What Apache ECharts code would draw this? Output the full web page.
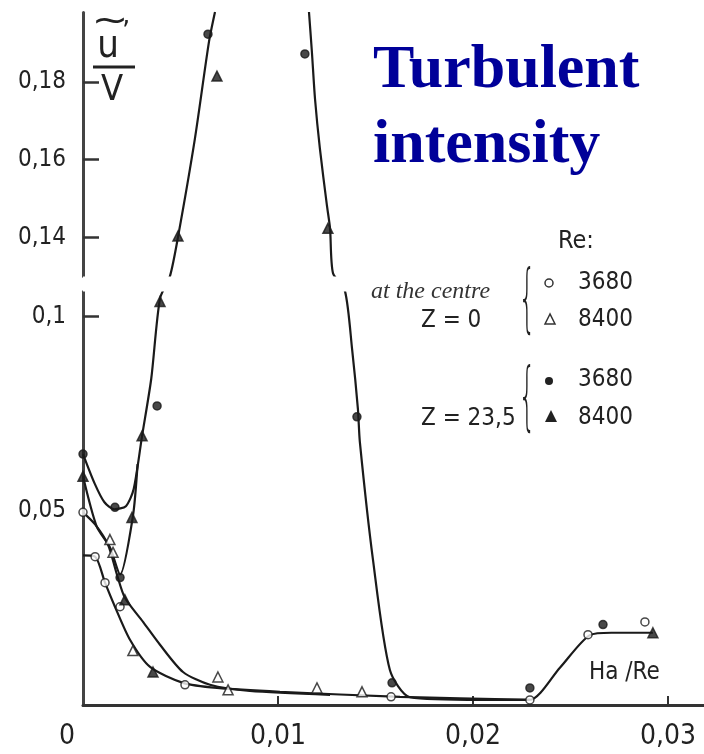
<!DOCTYPE html>
<html><head><meta charset="utf-8">
<script src="https://cdn.jsdelivr.net/npm/echarts@6/dist/echarts.min.js"></script>
<style>html,body{margin:0;padding:0;background:#fff}#c{width:704px;height:754px}</style>
</head><body><div id="c"></div>
<script>
// ---- axis ticks / labels ----
const xLabelValues = [0, 0.01, 0.02, 0.03];
const xTickValues = [0.01, 0.02, 0.03];
const yLabelValues = [0.05, 0.1, 0.14, 0.16, 0.18];
const yTickValues = [0.1, 0.14, 0.16, 0.18];
const yBreakRange = [0.1065, 0.13];

// ---- drawn curves [Ha/Re, u'/V] ----
const curvePeakLeft = [[0,0.0646],[0.0006,0.057],[0.0011,0.0522],[0.0016,0.0504],[0.0022,0.0512],[0.0026,0.0556],[0.00303,0.0693],[0.0035,0.084],[0.00395,0.1047],[0.00446,0.13],[0.00487,0.14],[0.00574,0.1654],[0.00646,0.1903],[0.00677,0.198]];
const curvePeakRight = [[0.01159,0.198],[0.01174,0.1877],[0.0119,0.1756],[0.01215,0.1628],[0.01251,0.1482],[0.01267,0.1423],[0.01282,0.1308],[0.01344,0.1065],[0.0138,0.0917],[0.0141,0.0762],[0.0142,0.0677],[0.01487,0.0375],[0.01574,0.009],[0.01677,0.002],[0.0204,0.0013],[0.0229,0.0013],[0.02446,0.0096],[0.026,0.018],[0.0271,0.0186],[0.02923,0.0186]];
const curveDip = [[0,0.0589],[0.0007,0.046],[0.00138,0.0406],[0.0019,0.0336],[0.00256,0.0486],[0.0028,0.062]];
const curveOuter = [[0,0.0496],[0.00062,0.0465],[0.00128,0.0413],[0.00174,0.0336],[0.00215,0.0276],[0.00308,0.0214],[0.00395,0.0155],[0.00513,0.0085],[0.00651,0.0052],[0.00856,0.0036],[0.01267,0.0026]];
const curveInner = [[0,0.0385],[0.00062,0.0382],[0.00113,0.0315],[0.00164,0.0253],[0.00241,0.0168],[0.00344,0.0098],[0.00513,0.0057],[0.00687,0.0044],[0.0101,0.0034],[0.01626,0.0021],[0.02292,0.0013]];

// ---- measured points ----
const centreRe3680 = [[0,0.0496],[0.00062,0.0382],[0.00113,0.0315],[0.0019,0.0253],[0.00523,0.0052],[0.0158,0.0021],[0.02292,0.0013],[0.0259,0.0181],[0.02882,0.0214]];
const centreRe8400 = [[0.00138,0.0426],[0.00154,0.0393],[0.00256,0.014],[0.00692,0.0072],[0.00744,0.0039],[0.012,0.0044],[0.01431,0.0034]];
const z235Re3680 = [[0,0.0646],[0.00164,0.0509],[0.0019,0.0328],[0.0038,0.077],[0.00641,0.1923],[0.01138,0.1872],[0.01405,0.0742],[0.01585,0.0057],[0.02292,0.0044],[0.02667,0.0207]];
const z235Re8400 = [[0,0.0589],[0.00215,0.0271],[0.00251,0.0483],[0.00303,0.0693],[0.00359,0.0085],[0.00395,0.1039],[0.00487,0.1403],[0.00687,0.1815],[0.01256,0.1423],[0.02923,0.0186]];

const NARROW = '"Liberation Sans Narrow","DejaVu Sans Condensed","Liberation Sans",sans-serif';
const INK = '#1a1a1a';
const fmt = v => String(v).replace('.', ',');

function lineSeries(data) {
  return { type: 'line', data: data, smooth: 0.25, showSymbol: false, symbol: 'none', z: 2,
    lineStyle: { color: INK, width: 2.2 }, silent: true, animation: false };
}
function scatterSeries(data, symbol, filled) {
  return { type: 'scatter', data: data, symbol: symbol, symbolSize: symbol === 'triangle' ? 10 : 8, z: 3,
    itemStyle: { color: filled ? INK : '#fff', borderColor: INK, borderWidth: 1.5 }, animation: false };
}
function txt(x, y, s, font, extra) {
  return { type: 'text', x: x, y: y, z: 300,
    style: Object.assign({ text: s, font: font, fill: '#222', align: 'left', verticalAlign: 'middle',
      textAlign: 'left', textVerticalAlign: 'middle' }, extra || {}) };
}

const chart = echarts.init(document.getElementById('c'), null, { renderer: 'canvas' });
chart.setOption({
  backgroundColor: '#fff',
  animation: false,
  grid: { left: 83, right: 0, top: 12, bottom: 49, containLabel: false },
  xAxis: {
    type: 'value', min: 0, max: 0.03185,
    axisLine: { show: true, lineStyle: { color: '#333', width: 3 } },
    axisTick: { show: true, inside: true, length: 9, customValues: xTickValues, lineStyle: { color: '#333', width: 2 } },
    splitLine: { show: false },
    axisLabel: {
      customValues: xLabelValues, margin: 18, color: '#222', fontFamily: NARROW, fontSize: 28,
      formatter: v => v === 0 ? '{o|0}' : fmt(v),
      rich: { o: { fontFamily: NARROW, fontSize: 28, color: '#222', padding: [0, 32, 0, 0] } }
    }
  },
  yAxis: {
    type: 'value', min: 0, max: 0.198,
    breaks: [{ start: yBreakRange[0], end: yBreakRange[1], gap: '2.2%' }],
    breakArea: { show: true, expandOnClick: false, zigzagAmplitude: 0, zigzagZ: 5,
      itemStyle: { color: '#fff', opacity: 1, borderColor: '#fff', borderWidth: 0 } },
    axisLine: { show: true, lineStyle: { color: '#444', width: 3 } },
    axisTick: { show: true, inside: true, length: 16, customValues: yTickValues, lineStyle: { color: '#333', width: 2.5 } },
    splitLine: { show: false },
    axisLabel: { customValues: yLabelValues, margin: 17, color: '#222', fontFamily: NARROW, fontSize: 24, formatter: fmt }
  },
  series: [
    lineSeries(curvePeakLeft),
    lineSeries(curvePeakRight),
    lineSeries(curveDip),
    lineSeries(curveOuter),
    lineSeries(curveInner),
    scatterSeries(centreRe3680, 'circle', false),
    scatterSeries(centreRe8400, 'triangle', false),
    scatterSeries(z235Re3680, 'circle', true),
    scatterSeries(z235Re8400, 'triangle', true)
  ],
  graphic: [
    // y axis name  u'/V with tilde
    Object.assign(txt(110, 22, '~', '34px "DejaVu Sans",sans-serif', { align: 'center', textAlign: 'center' }), { scaleX: 1.3 }),
    txt(108, 47, 'u', '38px ' + NARROW, { align: 'center', textAlign: 'center' }),
    txt(126, 34, '\u2019', '28px ' + NARROW, { align: 'center', textAlign: 'center' }),
    { type: 'line', z: 300, shape: { x1: 93, y1: 67, x2: 135, y2: 67 }, style: { stroke: '#222', lineWidth: 3 } },
    txt(112, 91, 'V', '36px ' + NARROW, { align: 'center', textAlign: 'center' }),
    // title
    txt(373, 71, 'Turbulent', 'bold 62px "Liberation Serif","Times New Roman",serif', { fill: '#000099' }),
    txt(373, 146, 'intensity', 'bold 62px "Liberation Serif","Times New Roman",serif', { fill: '#000099' }),
    // legend
    txt(558, 241, 'Re:', '25px ' + NARROW),
    txt(371, 292, 'at the centre', 'italic 24px "Liberation Serif",serif', { fill: '#333' }),
    txt(421, 321, 'Z = 0', '24px ' + NARROW),
    Object.assign(txt(527, 304, '{', '300 30px "DejaVu Sans",sans-serif', { align: 'center', textAlign: 'center' }), { scaleY: 2.5, scaleX: 0.9 }),
    { type: 'circle', z: 300, shape: { cx: 549, cy: 283, r: 4 }, style: { fill: '#fff', stroke: '#333', lineWidth: 1.5 } },
    txt(578, 283, '3680', '24px ' + NARROW),
    { type: 'polygon', z: 300, shape: { points: [[550, 314], [545, 324], [555, 324]] }, style: { fill: '#fff', stroke: '#333', lineWidth: 1.5 } },
    txt(578, 320, '8400', '24px ' + NARROW),
    Object.assign(txt(527, 402, '{', '300 30px "DejaVu Sans",sans-serif', { align: 'center', textAlign: 'center' }), { scaleY: 2.5, scaleX: 0.9 }),
    { type: 'circle', z: 300, shape: { cx: 549, cy: 381, r: 4 }, style: { fill: '#222' } },
    txt(578, 380, '3680', '24px ' + NARROW),
    { type: 'polygon', z: 300, shape: { points: [[551, 410], [545, 422], [557, 422]] }, style: { fill: '#222' } },
    txt(578, 418, '8400', '24px ' + NARROW),
    txt(421, 419, 'Z = 23,5', '24px ' + NARROW),
    // x axis name
    txt(589, 673, 'Ha /Re', '24px ' + NARROW)
  ]
});
</script>
</body></html>
